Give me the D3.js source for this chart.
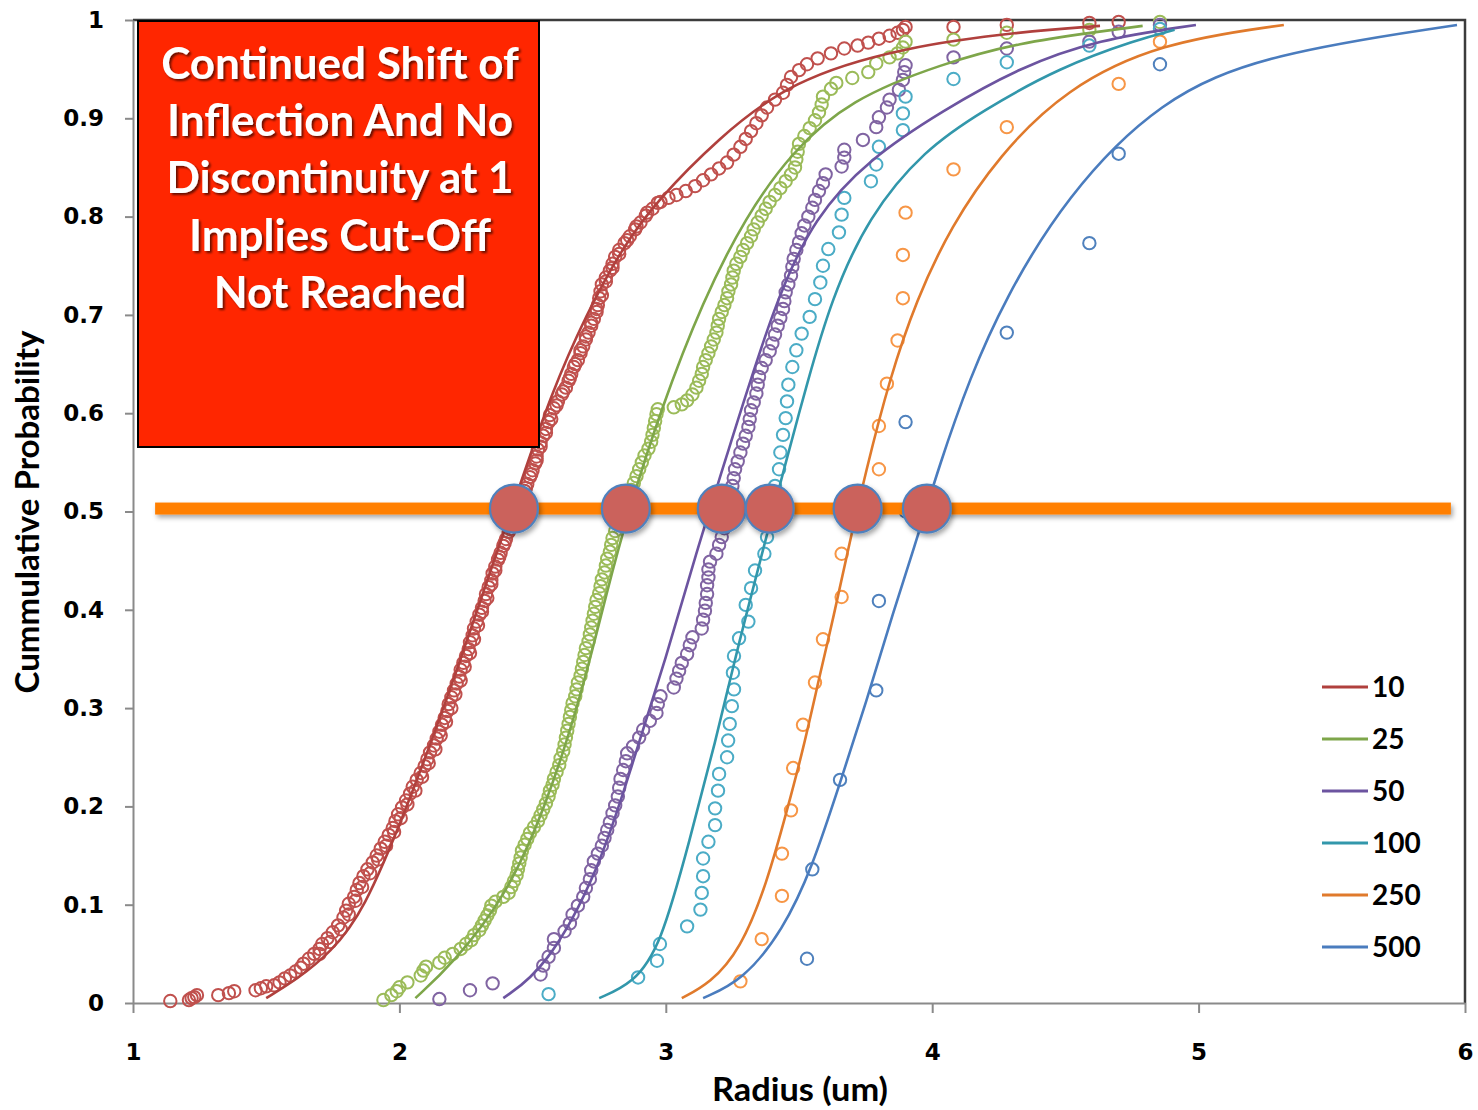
<!DOCTYPE html>
<html>
<head>
<meta charset="utf-8">
<script src="https://cdn.jsdelivr.net/npm/d3@7"></script>
<style>
body { margin: 0; background: #fff; }
.tick text { font-family: "DejaVu Sans", Verdana, sans-serif; font-weight: bold; font-size: 23px; fill: #000; }
.axis-title { font-family: Lato, "Open Sans", sans-serif; font-weight: bold; fill: #000; }
</style>
</head>
<body>
<div id="chart"></div>
<script>

// ---- data ----
var seriesNames = ["10", "25", "50", "100", "250", "500"];
var markerColors = ["#c0504d", "#9bbb59", "#8064a2", "#4bacc6", "#f79646", "#4f81bd"];
var lineColors = ["#b0403d", "#7ea64a", "#6c54a0", "#3297ab", "#e07a2c", "#4a7cbe"];

var xTicks = [1, 2, 3, 4, 5, 6];
var yTicks = [0, 0.1, 0.2, 0.3, 0.4, 0.5, 0.6, 0.7, 0.8, 0.9, 1];
var yTickLabels = ["0", "0.1", "0.2", "0.3", "0.4", "0.5", "0.6", "0.7", "0.8", "0.9", "1"];

// measured points [radius, cumulative probability]
var pts10 = [[1.14,0.002],[1.21,0.003],[1.22,0.005],[1.23,0.006],[1.24,0.008],[1.32,0.008],[1.36,0.010],[1.38,0.012],[1.46,0.013],[1.48,0.015],[1.50,0.017],[1.53,0.018],[1.55,0.021],[1.57,0.025],[1.59,0.028],[1.61,0.032],[1.63,0.036],[1.64,0.040],[1.66,0.045],[1.68,0.050],[1.70,0.055],[1.71,0.060],[1.73,0.066],[1.75,0.072],[1.77,0.079],[1.79,0.087],[1.80,0.094],[1.81,0.101],[1.83,0.108],[1.84,0.115],[1.85,0.122],[1.865,0.129],[1.88,0.136],[1.90,0.143],[1.915,0.150],[1.93,0.157],[1.945,0.164],[1.96,0.171],[1.975,0.178],[1.985,0.185],[1.995,0.192],[2.01,0.199],[2.025,0.206],[2.04,0.213],[2.05,0.220],[2.065,0.227],[2.08,0.234],[2.095,0.241],[2.105,0.248],[2.115,0.255],[2.13,0.262],[2.14,0.269],[2.15,0.276],[2.16,0.283],[2.17,0.290],[2.18,0.297],[2.185,0.304],[2.195,0.311],[2.205,0.318],[2.215,0.325],[2.225,0.332],[2.23,0.339],[2.24,0.346],[2.25,0.353],[2.26,0.360],[2.265,0.367],[2.275,0.374],[2.28,0.381],[2.29,0.388],[2.30,0.395],[2.31,0.402],[2.32,0.409],[2.325,0.416],[2.335,0.423],[2.345,0.430],[2.35,0.437],[2.36,0.444],[2.37,0.451],[2.38,0.458],[2.39,0.465],[2.40,0.472],[2.41,0.479],[2.42,0.486],[2.43,0.493],[2.44,0.500],[2.45,0.507],[2.46,0.514],[2.47,0.521],[2.48,0.528],[2.49,0.535],[2.50,0.542],[2.51,0.549],[2.515,0.556],[2.52,0.563],[2.53,0.570],[2.54,0.577],[2.55,0.584],[2.56,0.591],[2.565,0.598],[2.58,0.605],[2.595,0.612],[2.61,0.619],[2.625,0.626],[2.635,0.633],[2.645,0.640],[2.655,0.647],[2.67,0.654],[2.68,0.661],[2.69,0.668],[2.70,0.675],[2.71,0.682],[2.72,0.689],[2.73,0.696],[2.74,0.703],[2.745,0.710],[2.75,0.717],[2.755,0.724],[2.76,0.731],[2.775,0.738],[2.79,0.745],[2.80,0.752],[2.81,0.759],[2.825,0.766],[2.845,0.773],[2.865,0.780],[2.885,0.787],[2.905,0.794],[2.925,0.801],[2.95,0.808],[2.98,0.815],[3.01,0.819],[3.04,0.822],[3.075,0.826],[3.11,0.831],[3.14,0.837],[3.17,0.843],[3.20,0.849],[3.23,0.855],[3.255,0.863],[3.28,0.871],[3.30,0.879],[3.32,0.887],[3.34,0.895],[3.36,0.903],[3.38,0.911],[3.41,0.919],[3.44,0.926],[3.455,0.934],[3.47,0.942],[3.50,0.949],[3.53,0.955],[3.57,0.961],[3.62,0.966],[3.67,0.971],[3.72,0.974],[3.76,0.977],[3.80,0.981],[3.84,0.984],[3.87,0.987],[3.89,0.990],[3.90,0.993],[4.08,0.993],[4.28,0.995],[4.59,0.997],[4.70,0.998]];
// right edge of the dense red band
var pts10b = [[1.70,0.050],[1.74,0.062],[1.78,0.075],[1.81,0.090],[1.835,0.104],[1.86,0.118],[1.89,0.132],[1.92,0.146],[1.95,0.160],[1.98,0.174],[2.005,0.188],[2.03,0.202],[2.06,0.216],[2.085,0.230],[2.11,0.244],[2.135,0.258],[2.155,0.272],[2.175,0.286],[2.195,0.300],[2.21,0.314],[2.23,0.328],[2.245,0.342],[2.265,0.356],[2.28,0.370],[2.295,0.384],[2.31,0.398],[2.33,0.412],[2.345,0.426],[2.36,0.440],[2.375,0.454],[2.395,0.468],[2.415,0.482],[2.435,0.496],[2.455,0.510],[2.475,0.524],[2.495,0.538],[2.515,0.552],[2.53,0.566],[2.55,0.580],[2.57,0.594],[2.59,0.608],[2.615,0.622],[2.64,0.636],[2.66,0.650],[2.68,0.664],[2.70,0.678],[2.72,0.692],[2.74,0.706],[2.76,0.720],[2.775,0.734],[2.80,0.748],[2.825,0.762],[2.855,0.776],[2.89,0.790],[2.93,0.804],[2.97,0.814]];

var pts25 = [[1.94,0.003],[1.97,0.008],[1.99,0.012],[2.00,0.016],[2.03,0.021],[2.08,0.028],[2.09,0.033],[2.10,0.037],[2.15,0.041],[2.17,0.046],[2.20,0.050],[2.23,0.055],[2.25,0.060],[2.27,0.064],[2.28,0.069],[2.30,0.074],[2.31,0.079],[2.32,0.084],[2.33,0.089],[2.34,0.094],[2.345,0.099],[2.36,0.103],[2.39,0.108],[2.41,0.112],[2.42,0.118],[2.43,0.124],[2.44,0.130],[2.445,0.136],[2.45,0.142],[2.455,0.148],[2.46,0.155],[2.47,0.161],[2.48,0.167],[2.49,0.173],[2.505,0.179],[2.52,0.185],[2.53,0.191],[2.54,0.197],[2.55,0.203],[2.56,0.210],[2.565,0.216],[2.575,0.222],[2.58,0.228],[2.59,0.235],[2.60,0.242],[2.605,0.249],[2.615,0.256],[2.62,0.263],[2.625,0.270],[2.63,0.277],[2.635,0.284],[2.64,0.291],[2.645,0.298],[2.65,0.305],[2.66,0.312],[2.665,0.319],[2.67,0.326],[2.68,0.333],[2.685,0.340],[2.69,0.347],[2.695,0.354],[2.70,0.361],[2.71,0.368],[2.715,0.375],[2.72,0.382],[2.725,0.389],[2.73,0.396],[2.735,0.403],[2.74,0.410],[2.75,0.417],[2.755,0.424],[2.76,0.431],[2.77,0.438],[2.775,0.445],[2.78,0.452],[2.79,0.459],[2.795,0.466],[2.80,0.473],[2.81,0.480],[2.82,0.487],[2.83,0.494],[2.84,0.501],[2.85,0.508],[2.86,0.515],[2.87,0.522],[2.88,0.529],[2.89,0.536],[2.90,0.543],[2.91,0.550],[2.92,0.557],[2.935,0.564],[2.945,0.571],[2.95,0.578],[2.955,0.585],[2.96,0.592],[2.965,0.599],[2.97,0.604],[3.03,0.606],[3.06,0.609],[3.08,0.613],[3.10,0.619],[3.115,0.626],[3.125,0.633],[3.135,0.640],[3.14,0.647],[3.15,0.654],[3.16,0.661],[3.17,0.668],[3.18,0.675],[3.19,0.682],[3.195,0.689],[3.20,0.696],[3.21,0.703],[3.22,0.710],[3.23,0.717],[3.235,0.724],[3.245,0.731],[3.25,0.738],[3.255,0.745],[3.265,0.752],[3.28,0.759],[3.29,0.766],[3.305,0.773],[3.32,0.780],[3.33,0.787],[3.345,0.794],[3.36,0.801],[3.375,0.808],[3.39,0.815],[3.41,0.822],[3.43,0.829],[3.45,0.836],[3.47,0.843],[3.485,0.850],[3.49,0.858],[3.495,0.866],[3.50,0.874],[3.52,0.882],[3.54,0.890],[3.56,0.898],[3.575,0.906],[3.585,0.914],[3.59,0.922],[3.62,0.930],[3.64,0.936],[3.70,0.941],[3.76,0.947],[3.79,0.956],[3.84,0.962],[3.87,0.966],[3.89,0.972],[3.90,0.978],[4.08,0.980],[4.28,0.987],[4.59,0.990],[4.855,0.998]];

var pts50 = [[2.15,0.004],[2.265,0.013],[2.35,0.020],[2.53,0.029],[2.54,0.038],[2.56,0.047],[2.58,0.056],[2.58,0.065],[2.62,0.073],[2.64,0.081],[2.65,0.090],[2.67,0.099],[2.69,0.108],[2.70,0.117],[2.715,0.126],[2.72,0.135],[2.73,0.144],[2.745,0.152],[2.76,0.160],[2.77,0.168],[2.78,0.176],[2.79,0.184],[2.80,0.193],[2.81,0.201],[2.82,0.210],[2.825,0.219],[2.83,0.228],[2.84,0.237],[2.85,0.246],[2.855,0.254],[2.877,0.261],[2.90,0.270],[2.915,0.278],[2.94,0.287],[2.965,0.295],[2.97,0.304],[2.98,0.312],[3.03,0.321],[3.04,0.330],[3.05,0.338],[3.06,0.346],[3.08,0.355],[3.09,0.364],[3.10,0.372],[3.135,0.381],[3.14,0.390],[3.147,0.399],[3.15,0.407],[3.155,0.416],[3.155,0.425],[3.16,0.433],[3.16,0.441],[3.166,0.449],[3.19,0.457],[3.20,0.466],[3.21,0.474],[3.22,0.483],[3.23,0.491],[3.235,0.500],[3.24,0.509],[3.245,0.517],[3.25,0.526],[3.255,0.534],[3.26,0.543],[3.27,0.551],[3.28,0.560],[3.29,0.569],[3.30,0.577],[3.31,0.586],[3.315,0.594],[3.32,0.603],[3.33,0.611],[3.34,0.620],[3.345,0.629],[3.35,0.637],[3.36,0.646],[3.375,0.654],[3.39,0.663],[3.40,0.671],[3.41,0.680],[3.42,0.689],[3.43,0.697],[3.44,0.706],[3.445,0.714],[3.45,0.723],[3.46,0.731],[3.47,0.740],[3.475,0.749],[3.48,0.757],[3.49,0.766],[3.50,0.774],[3.51,0.783],[3.52,0.791],[3.535,0.800],[3.55,0.809],[3.56,0.817],[3.575,0.826],[3.59,0.834],[3.60,0.843],[3.66,0.851],[3.67,0.860],[3.67,0.868],[3.74,0.878],[3.79,0.891],[3.80,0.901],[3.83,0.911],[3.84,0.919],[3.875,0.929],[3.89,0.939],[3.895,0.947],[3.90,0.954],[4.08,0.962],[4.28,0.971],[4.59,0.978],[4.70,0.988],[4.855,0.995]];

var pts100 = [[2.56,0.009],[2.896,0.026],[2.967,0.043],[2.978,0.060],[3.08,0.078],[3.13,0.095],[3.135,0.112],[3.14,0.129],[3.14,0.147],[3.16,0.164],[3.185,0.181],[3.185,0.198],[3.196,0.216],[3.20,0.233],[3.23,0.250],[3.234,0.267],[3.24,0.284],[3.248,0.302],[3.256,0.319],[3.252,0.336],[3.256,0.353],[3.275,0.371],[3.31,0.388],[3.30,0.405],[3.32,0.422],[3.335,0.440],[3.37,0.457],[3.38,0.474],[3.39,0.491],[3.40,0.509],[3.41,0.526],[3.425,0.543],[3.43,0.560],[3.44,0.578],[3.45,0.595],[3.455,0.612],[3.46,0.629],[3.475,0.647],[3.49,0.664],[3.51,0.681],[3.54,0.698],[3.56,0.716],[3.58,0.733],[3.59,0.750],[3.61,0.767],[3.65,0.784],[3.66,0.802],[3.67,0.819],[3.77,0.836],[3.79,0.853],[3.80,0.871],[3.89,0.888],[3.89,0.905],[3.90,0.922],[4.08,0.940],[4.28,0.957],[4.59,0.974],[4.855,0.991]];

var pts250 = [[3.28,0.022],[3.36,0.065],[3.436,0.109],[3.436,0.152],[3.47,0.196],[3.478,0.239],[3.515,0.283],[3.56,0.326],[3.59,0.370],[3.66,0.413],[3.66,0.457],[3.72,0.500],[3.80,0.543],[3.80,0.587],[3.83,0.630],[3.87,0.674],[3.89,0.717],[3.89,0.761],[3.90,0.804],[4.08,0.848],[4.28,0.891],[4.70,0.935],[4.855,0.978]];

var pts500 = [[3.53,0.045],[3.55,0.136],[3.654,0.227],[3.79,0.318],[3.80,0.409],[3.90,0.500],[3.90,0.591],[4.28,0.682],[4.59,0.773],[4.70,0.864],[4.855,0.955]];

// fitted curves
var fit10 = [[1.50,0.005],[1.62,0.025],[1.74,0.051],[1.865,0.092],[2.03,0.20],[2.18,0.31],[2.33,0.43],[2.45,0.525],[2.57,0.62],[2.70,0.70],[2.84,0.77],[2.97,0.817],[3.19,0.878],[3.47,0.939],[3.90,0.973],[4.33,0.988],[4.63,0.994]];
var fit25 = [[2.06,0.005],[2.20,0.04],[2.40,0.108],[2.55,0.20],[2.68,0.31],[2.78,0.42],[2.86,0.50],[2.98,0.603],[3.14,0.715],[3.30,0.80],[3.47,0.865],[3.69,0.919],[4.04,0.956],[4.33,0.977],[4.62,0.988],[4.79,0.994]];
var fit50 = [[2.39,0.005],[2.55,0.035],[2.75,0.135],[2.87,0.24],[3.00,0.35],[3.117,0.461],[3.21,0.54],[3.41,0.715],[3.56,0.80],[3.76,0.858],[4.04,0.908],[4.33,0.952],[4.62,0.98],[4.99,0.995]];
var fit100 = [[2.75,0.005],[2.877,0.02],[2.98,0.057],[3.09,0.166],[3.19,0.27],[3.25,0.339],[3.30,0.393],[3.365,0.461],[3.45,0.55],[3.53,0.63],[3.62,0.715],[3.76,0.80],[3.97,0.868],[4.19,0.908],[4.48,0.952],[4.77,0.98],[4.91,0.99]];
var fit250 = [[3.06,0.005],[3.166,0.02],[3.28,0.054],[3.38,0.122],[3.455,0.196],[3.515,0.257],[3.58,0.336],[3.63,0.393],[3.684,0.461],[3.75,0.54],[3.84,0.635],[3.94,0.715],[4.07,0.79],[4.25,0.862],[4.50,0.93],[4.855,0.977],[5.32,0.995]];
var fit500 = [[3.14,0.005],[3.29,0.023],[3.44,0.074],[3.55,0.138],[3.654,0.224],[3.755,0.308],[3.84,0.386],[3.93,0.461],[4.03,0.55],[4.14,0.635],[4.27,0.715],[4.50,0.82],[4.855,0.92],[5.26,0.966],[5.97,0.995]];

// 50% crossings highlighted on the orange line
var crossX = [2.43, 2.85, 3.21, 3.39, 3.72, 3.98];
var halfLevel = 0.503;
var halfLineX = [1.083, 5.947];

var noteLines = ["Continued Shift of", "Inflection And No", "Discontinuity at 1", "Implies Cut-Off", "Not Reached"];

var allPoints = [pts10.concat(pts10b), pts25, pts50, pts100, pts250, pts500];
var allFits = [fit10, fit25, fit50, fit100, fit250, fit500];

// ---- SVG drawing area ----
var margin = {top: 20, right: 13, bottom: 107, left: 133};
var width = 1478 - margin.left - margin.right,
    height = 1110 - margin.top - margin.bottom;

var root = d3.select("#chart").append("svg")
    .attr("width", 1478)
    .attr("height", 1110);

var defs = root.append("defs");
defs.append("filter").attr("id", "shadow")
    .attr("x", "-20%").attr("y", "-60%").attr("width", "140%").attr("height", "240%")
  .append("feDropShadow")
    .attr("dx", 2).attr("dy", 3).attr("stdDeviation", 2.5)
    .attr("flood-color", "#000").attr("flood-opacity", 0.35);
defs.append("filter").attr("id", "textShadow")
  .append("feDropShadow")
    .attr("dx", 2).attr("dy", 2).attr("stdDeviation", 1.2)
    .attr("flood-color", "#000").attr("flood-opacity", 0.6);

var svg = root.append("g")
    .attr("transform", "translate(" + margin.left + "," + margin.top + ")");

var xScale = d3.scaleLinear().domain([1, 6]).range([0, width]);
var yScale = d3.scaleLinear().domain([0, 1]).range([height, 0]);

// plot border (top/right dark)
svg.append("path")
    .attr("d", "M0,0H" + width + "V" + height)
    .attr("fill", "none")
    .attr("stroke", "#3c3c3c")
    .attr("stroke-width", 2.5);

// axes
var yAxis = d3.axisLeft(yScale)
    .tickValues(yTicks)
    .tickFormat(function(d, i) { return yTickLabels[i]; })
    .tickSize(8).tickSizeOuter(0).tickPadding(21);
var xAxis = d3.axisBottom(xScale)
    .tickValues(xTicks)
    .tickFormat(d3.format("d"))
    .tickSize(10).tickSizeOuter(0);

var yAxisGroup = svg.append("g").attr("class", "y-axis axis").call(yAxis);
var xAxisGroup = svg.append("g").attr("class", "x-axis axis")
    .attr("transform", "translate(0," + height + ")").call(xAxis);
xAxisGroup.selectAll(".tick text").attr("y", 41);

svg.selectAll(".axis path, .axis line")
    .attr("stroke", "#8a8a8a")
    .attr("stroke-width", 2);

// series: markers then fitted line
var line = d3.line()
    .x(function(d) { return xScale(d[0]); })
    .y(function(d) { return yScale(d[1]); })
    .curve(d3.curveBasis);

allPoints.forEach(function(pts, i) {
    svg.append("g").selectAll("circle")
        .data(pts)
      .enter().append("circle")
        .attr("cx", function(d) { return xScale(d[0]); })
        .attr("cy", function(d) { return yScale(d[1]); })
        .attr("r", 6.2)
        .attr("fill", "none")
        .attr("stroke", markerColors[i])
        .attr("stroke-width", 2);
});
allFits.forEach(function(fit, i) {
    svg.append("path")
        .datum(fit)
        .attr("d", line)
        .attr("fill", "none")
        .attr("stroke", lineColors[i])
        .attr("stroke-width", 2.6);
});

// orange 50% line and crossing dots
svg.append("rect")
    .attr("x", xScale(halfLineX[0]))
    .attr("width", xScale(halfLineX[1]) - xScale(halfLineX[0]))
    .attr("y", yScale(halfLevel) - 6)
    .attr("height", 12)
    .attr("fill", "#ff7f00")
    .attr("filter", "url(#shadow)");

svg.append("g").selectAll("circle")
    .data(crossX)
  .enter().append("circle")
    .attr("cx", function(d) { return xScale(d); })
    .attr("cy", yScale(halfLevel))
    .attr("r", 24)
    .attr("fill", "#cb625b")
    .attr("stroke", "#4f81bd")
    .attr("stroke-width", 2.2)
    .attr("filter", "url(#shadow)");

// annotation box
var note = root.append("g");
note.append("rect")
    .attr("x", 138).attr("y", 21)
    .attr("width", 401).attr("height", 426)
    .attr("fill", "#ff2600")
    .attr("stroke", "#000")
    .attr("stroke-width", 2);
note.selectAll("text")
    .data(noteLines)
  .enter().append("text")
    .attr("x", 340)
    .attr("y", function(d, i) { return 79 + i * 57.2; })
    .attr("text-anchor", "middle")
    .attr("class", "axis-title")
    .style("font-size", "44px")
    .style("fill", "#fff")
    .attr("filter", "url(#textShadow)")
    .text(function(d) { return d; });

// axis titles
root.append("text")
    .attr("class", "axis-title")
    .attr("x", 800).attr("y", 1101)
    .attr("text-anchor", "middle")
    .attr("textLength", 176)
    .attr("lengthAdjust", "spacingAndGlyphs")
    .style("font-size", "32px")
    .text("Radius (um)");

root.append("text")
    .attr("class", "axis-title")
    .attr("transform", "translate(39,512) rotate(-90)")
    .attr("text-anchor", "middle")
    .attr("textLength", 363)
    .attr("lengthAdjust", "spacingAndGlyphs")
    .style("font-size", "32px")
    .text("Cummulative Probability");

// legend
var legend = root.append("g").attr("transform", "translate(1322,687)");
var item = legend.selectAll("g")
    .data(seriesNames)
  .enter().append("g")
    .attr("transform", function(d, i) { return "translate(0," + (i * 52) + ")"; });
item.append("line")
    .attr("x1", 0).attr("x2", 46)
    .attr("stroke", function(d, i) { return lineColors[i]; })
    .attr("stroke-width", 3);
item.append("text")
    .attr("x", 50).attr("y", 10)
    .attr("class", "axis-title")
    .style("font-size", "28px")
    .text(function(d) { return d; });

</script>
</body>
</html>
